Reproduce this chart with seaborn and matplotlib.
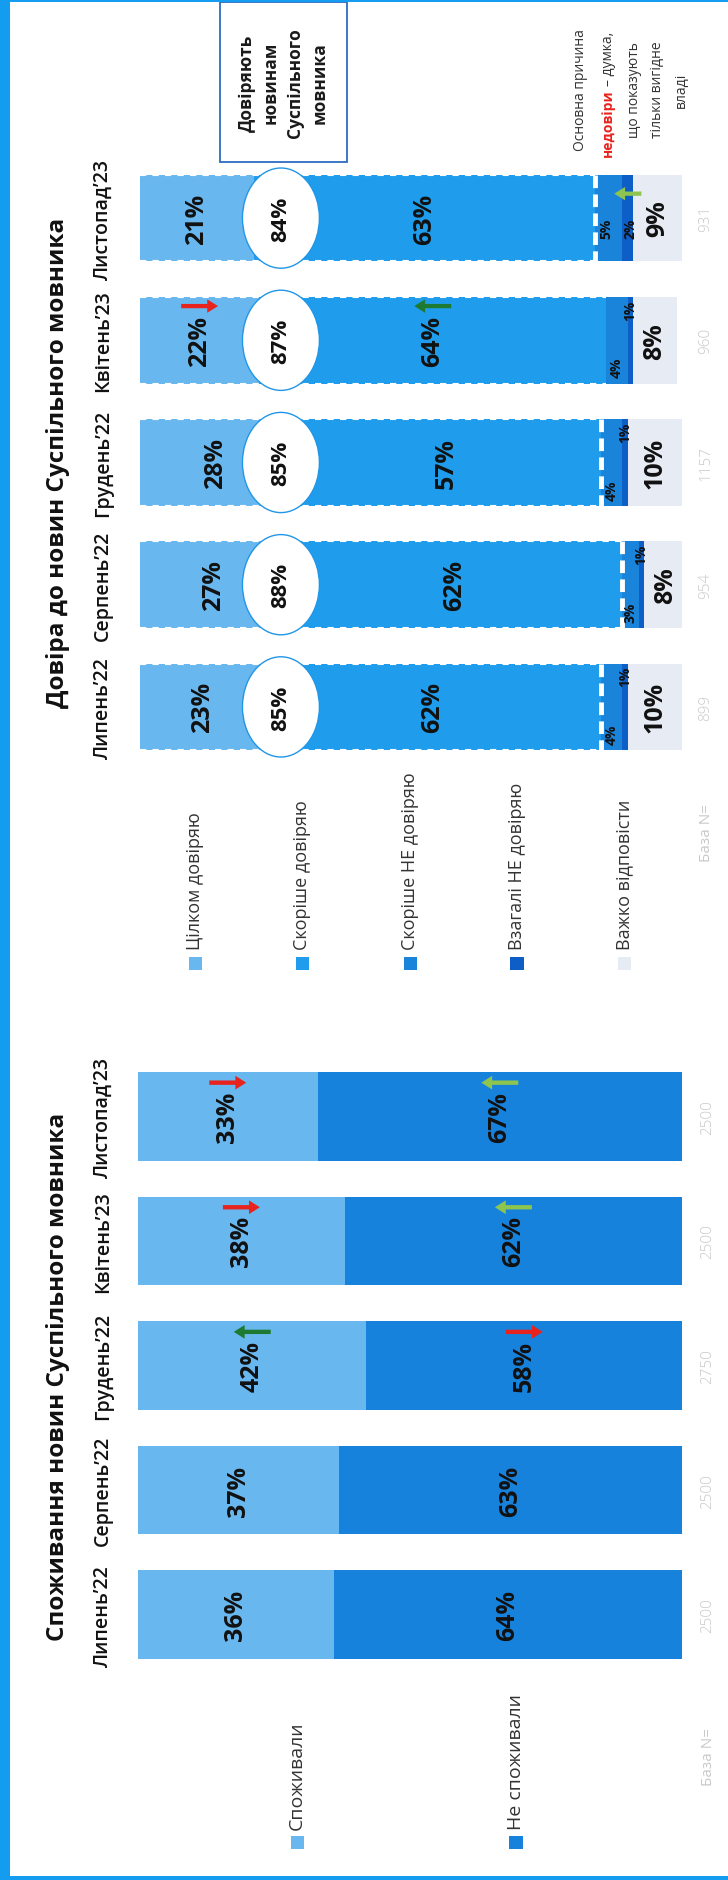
import matplotlib
matplotlib.use("Agg")
import matplotlib.pyplot as plt
from matplotlib import font_manager as fm
from matplotlib.patches import Rectangle, Ellipse, FancyArrow
import pandas as pd
import seaborn as sns

# === дані ===
months = ["Липень’22", "Серпень’22", "Грудень’22", "Квітень’23", "Листопад’23"]

# Споживання новин
consumed = [36, 37, 42, 38, 33]
not_consumed = [64, 63, 58, 62, 67]
base_consume = [2500, 2500, 2750, 2500, 2500]
consumed_change = ["", "", "G", "r", "r"]       # G/g - зростання, r - падіння
not_consumed_change = ["", "", "r", "g", "g"]

# Довіра до новин
trust_full = [23, 27, 28, 22, 21]
trust_rather = [62, 62, 57, 64, 63]
distrust_rather = [4, 3, 4, 4, 5]
distrust_full = [1, 1, 1, 1, 2]
hard_to_say = [10, 8, 10, 8, 9]
trust_total = [85, 88, 85, 87, 84]
base_trust = [899, 954, 1157, 960, 931]
trust_full_change = ["", "", "", "r", ""]
trust_rather_change = ["", "", "", "G", ""]
distrust_full_change = ["", "", "", "", "g"]

consume_legend = ["Споживали", "Не споживали"]
trust_legend = ["Цілком довіряю", "Скоріше довіряю", "Скоріше НЕ довіряю",
                "Взагалі НЕ довіряю", "Важко відповісти"]

# === кольори ===
LIGHT = "#69b7ef"
RATHER = "#1f9dec"
NOT_RATHER = "#1a83da"
NOT_FULL = "#0d5ec6"
HARD = "#e6ebf4"
NOT_CONS = "#1782dc"
FRAME = "#149cf0"
ARROW = {"r": "#e8231d", "G": "#1d7a30", "g": "#8dc54e"}

sns.set_theme(style="white")
names = {f.name for f in fm.fontManager.ttflist}
MAIN = "Open Sans" if "Open Sans" in names else "DejaVu Sans"
NARROW = "Liberation Sans Narrow" if "Liberation Sans Narrow" in names else MAIN
plt.rcParams["font.family"] = [MAIN, "DejaVu Sans"]

W, H = 728, 1881


def fx(px):
    return px / W


def fy(py):
    return 1 - py / H


fig = plt.figure(figsize=(W / 100, H / 100), dpi=100)
fig.patch.set_facecolor("white")

ax_t = fig.add_axes([fx(140), fy(769), 542 / W, (769 - 158) / H])
ax_c = fig.add_axes([fx(138), fy(1678), 544 / W, (1678 - 1055) / H])

order = months[::-1]
ypos = {m: k for k, m in enumerate(order)}
BAR_W = 0.71


def stacked(ax, parts, colors):
    # накопичені суми, малюємо від найдовшої до найкоротшої
    cum = pd.DataFrame({i: p for i, p in enumerate(parts)}, index=months).cumsum(axis=1)
    for i in reversed(range(len(parts))):
        sns.barplot(x=cum[i].values, y=months, order=order, orient="y", color=colors[i],
                    width=BAR_W, saturation=1, linewidth=0, errorbar=None, ax=ax)
    ax.set_xlim(0, 100)
    ax.set_ylim(len(months) - 0.5, -0.5)
    ax.axis("off")


def arrow(ax, xc, y, kind, length=6.8):
    if not kind:
        return
    if kind == "r":
        start, d = xc - length / 2, length
    else:
        start, d = xc + length / 2, -length
    ax.add_patch(FancyArrow(start, y, d, 0, width=0.035, head_width=0.11, head_length=2.0,
                            length_includes_head=True, color=ARROW[kind], lw=0, zorder=6))


def vtext(ax, x, y, s, size, weight="bold", family=None, color="#111111", **kw):
    ax.text(x, y, s, rotation=90, ha="center", va="center", fontsize=size,
            fontweight=weight, family=family or [MAIN, "DejaVu Sans"], color=color,
            clip_on=False, zorder=7, **kw)


NF = [NARROW, "DejaVu Sans"]

# === Споживання ===
stacked(ax_c, [consumed, not_consumed], [LIGHT, NOT_CONS])
for i, m in enumerate(months):
    y = ypos[m]
    vtext(ax_c, consumed[i] / 2, y, f"{consumed[i]}%", 18, family=NF)
    x2 = consumed[i] + not_consumed[i] / 2
    vtext(ax_c, x2, y, f"{not_consumed[i]}%", 18, family=NF)
    arrow(ax_c, consumed[i] / 2, y - 0.27, consumed_change[i])
    arrow(ax_c, x2, y - 0.27, not_consumed_change[i])
    vtext(ax_c, -6.4, y, m, 14, weight=600, family=NF)
    vtext(ax_c, 104.8, y, str(base_consume[i]), 11, weight="light", color="#c9c9c9")

# === Довіра ===
stacked(ax_t, [trust_full, trust_rather, distrust_rather, distrust_full, hard_to_say],
        [LIGHT, RATHER, NOT_RATHER, NOT_FULL, HARD])
for i, m in enumerate(months):
    y = ypos[m]
    tot = trust_full[i] + trust_rather[i]
    # пунктирна межа довіри
    h = BAR_W / 2
    ax_t.plot([0, tot], [y - h, y - h], color="white", lw=1.5, ls=(0, (3, 3)), zorder=3)
    ax_t.plot([0, tot], [y + h, y + h], color="white", lw=1.5, ls=(0, (3, 3)), zorder=3)
    if i != 3:
        ax_t.plot([tot, tot], [y - h, y + h], color="white", lw=3.5, ls=(0, (2.6, 1.3)), zorder=3)
    vtext(ax_t, trust_full[i] / 2, y, f"{trust_full[i]}%", 18, family=NF)
    vtext(ax_t, trust_full[i] + trust_rather[i] / 2, y, f"{trust_rather[i]}%", 18, family=NF)
    x_dr = tot + distrust_rather[i] / 2
    x_df = tot + distrust_rather[i] + distrust_full[i] / 2
    if distrust_rather[i] >= 5:
        vtext(ax_t, x_dr - 0.5, y + 0.08, f"{distrust_rather[i]}%", 10, family=NF)
        vtext(ax_t, x_df + 0.5, y + 0.08, f"{distrust_full[i]}%", 10, family=NF)
    else:
        vtext(ax_t, x_dr, y + 0.22, f"{distrust_rather[i]}%", 10, family=NF)
        vtext(ax_t, x_df, y - 0.25, f"{distrust_full[i]}%", 10, family=NF)
    x_h = tot + distrust_rather[i] + distrust_full[i] + hard_to_say[i] / 2
    vtext(ax_t, x_h, y, f"{hard_to_say[i]}%", 18, family=NF)
    ax_t.add_patch(Ellipse((26, y), 14.2, 0.82, fc="white", ec="#2196e6", lw=1, zorder=5))
    vtext(ax_t, 26, y, f"{trust_total[i]}%", 16, family=NF)
    arrow(ax_t, trust_full[i] / 2, y - 0.28, trust_full_change[i])
    arrow(ax_t, trust_full[i] + trust_rather[i] / 2, y - 0.28, trust_rather_change[i])
    arrow(ax_t, x_df, y - 0.2, distrust_full_change[i], length=5)
    vtext(ax_t, -6.8, y, m, 14, weight=600, family=NF)
    vtext(ax_t, 104.4, y, str(base_trust[i]), 11, weight="light", color="#c9c9c9")

# === заголовки ===
fig.text(fx(58), fy(463), "Довіра до новин Суспільного мовника", rotation=90,
         ha="center", va="center", fontsize=17.5, fontweight="bold", color="#111111")
fig.text(fx(58), fy(1377), "Споживання новин Суспільного мовника", rotation=90,
         ha="center", va="center", fontsize=17.5, fontweight="bold", color="#111111")

# === легенди ===
for x, lab, c in zip([195, 302, 410, 517, 624], trust_legend,
                     [LIGHT, RATHER, NOT_RATHER, NOT_FULL, HARD]):
    fig.add_artist(Rectangle((fx(x - 6.5), fy(971)), 13 / W, 13 / H,
                             transform=fig.transFigure, color=c, lw=0))
    fig.text(fx(x), fy(950), lab, rotation=90, ha="center", va="bottom",
             fontsize=13, color="#333333")
for x, lab, c in zip([297, 516], consume_legend, [LIGHT, NOT_CONS]):
    fig.add_artist(Rectangle((fx(x - 6.5), fy(1850)), 13 / W, 13 / H,
                             transform=fig.transFigure, color=c, lw=0))
    fig.text(fx(x), fy(1830), lab, rotation=90, ha="center", va="bottom",
             fontsize=14, color="#333333")

fig.text(fx(706), fy(833), "База N=", rotation=90, ha="center", va="center",
         fontsize=11, color="#c9c9c9")
fig.text(fx(708), fy(1757), "База N=", rotation=90, ha="center", va="center",
         fontsize=11, color="#c9c9c9")

# === рамка з підписом ===
fig.add_artist(Rectangle((fx(220), fy(163)), 127 / W, 160 / H, transform=fig.transFigure,
                         fc="white", ec="#2d6cc0", lw=1.3))
fig.text(fx(283), fy(83), "Довіряють\nновинам\nСуспільного\nмовника", rotation=90,
         ha="center", va="center", multialignment="center", linespacing=1.45,
         fontsize=12.5, fontweight="bold", color="#1a1a1a")

# === примітка ===
note_kw = dict(rotation=90, ha="center", fontsize=10, color="#333333")
fig.text(fx(581), fy(90), "Основна причина", va="center", **note_kw)
fig.text(fx(608), fy(89), "недовіри", va="top", fontweight="bold",
         **{**note_kw, "color": "#e8231d"})
fig.text(fx(608), fy(86), "– думка,", va="bottom", **note_kw)
fig.text(fx(634), fy(90), "що показують", va="center", **note_kw)
fig.text(fx(658), fy(90), "тільки вигідне", va="center", **note_kw)
fig.text(fx(681), fy(90), "владі", va="center", **note_kw)

# === синя рамка слайда ===
fig.add_artist(Rectangle((0, 0), 10 / W, 1, transform=fig.transFigure, color=FRAME, lw=0))
fig.add_artist(Rectangle((0, fy(3)), 1, 3 / H, transform=fig.transFigure, color=FRAME, lw=0))
fig.add_artist(Rectangle((0, 0), 1, 4 / H, transform=fig.transFigure, color=FRAME, lw=0))

fig.savefig("out.png", dpi=100, facecolor="white")
plt.close(fig)
